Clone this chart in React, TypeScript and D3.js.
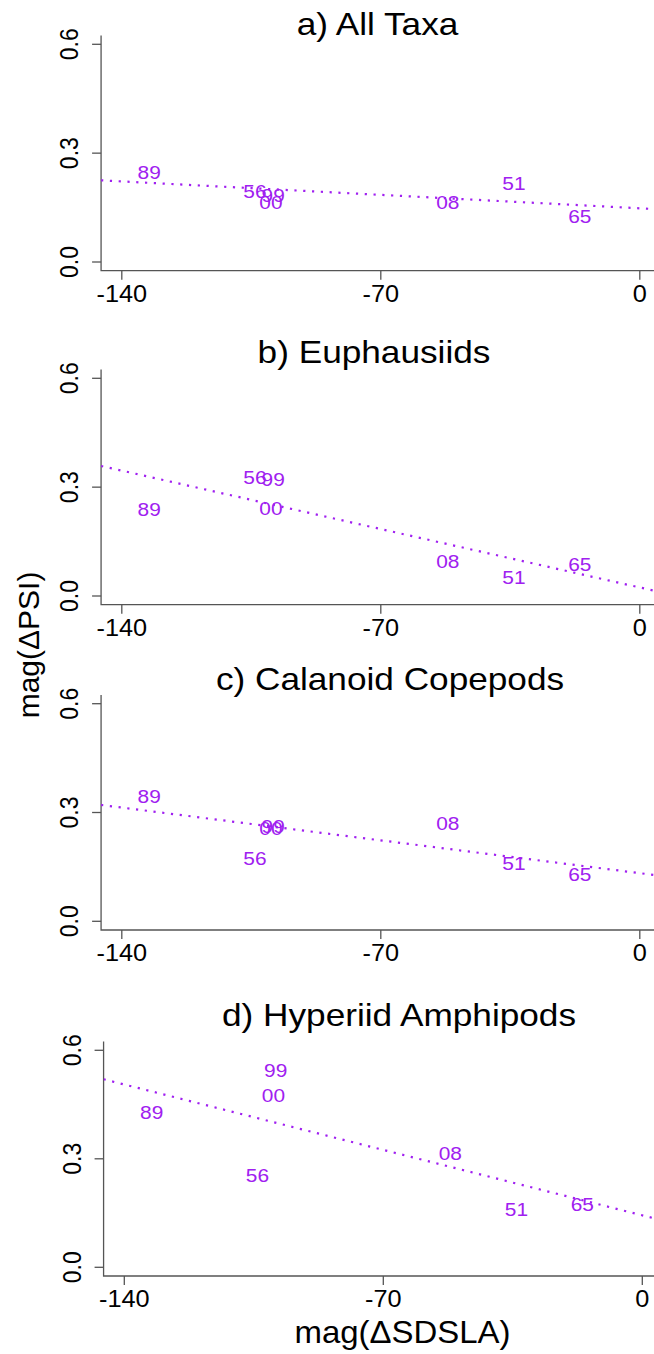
import * as d3 from "d3";

// magnitude of change in SDSLA (x) shared by every panel, one per year label
const yearLabels = ["89", "56", "99", "00", "08", "51", "65"];
const sdsla = [-132.6, -104.0, -99.1, -99.7, -51.9, -34.0, -16.2];

// magnitude of change in PSI per taxon group
const psiAllTaxa = [0.247, 0.194, 0.184, 0.164, 0.164, 0.217, 0.125];
const psiEuphausiids = [0.239, 0.327, 0.322, 0.241, 0.095, 0.051, 0.088];
const psiCalanoid = [0.344, 0.174, 0.261, 0.256, 0.27, 0.16, 0.13];
const psiHyperiid = [0.43, 0.254, 0.546, 0.477, 0.315, 0.161, 0.175];

// fitted line per panel: value at x = 0 and slope per unit of x
const fitIntercept = [0.148, 0.0235, 0.1327, 0.1437];
const fitSlope = [-0.000529, -0.0023, -0.001292, -0.002584];

const panelTitles = [
  "a) All Taxa",
  "b) Euphausiids",
  "c) Calanoid Copepods",
  "d) Hyperiid Amphipods",
];
const panelValues = [psiAllTaxa, psiEuphausiids, psiCalanoid, psiHyperiid];

const xTicks = [-140, -70, 0];
const yTicks = [0, 0.3, 0.6];

// page geometry (pixels) of each panel
const layout = [
  { y0: 262, y6: 44.3, dx: 0, titleX: 377.5, titleY: 35 },
  { y0: 596, y6: 378.3, dx: 0, titleX: 374, titleY: 363 },
  { y0: 921.3, y6: 703.7, dx: 0, titleX: 390, titleY: 690 },
  { y0: 1267.3, y6: 1050.3, dx: 2.5, titleX: 399, titleY: 1026 },
];

const W = 654;
const H = 1354;
const FONT = "'Liberation Sans', Arial, Helvetica, sans-serif";
const PURPLE = "#A020F0";
const AXIS = "#555555";
const SX = 1.1; // the figure is slightly stretched sideways

function Panel({ idx }: { idx: number }) {
  const L = layout[idx];
  const values = panelValues[idx];
  const x = d3.scaleLinear().domain([-140, 0]).range([121.8 + L.dx, 639.8 + L.dx]);
  const y = d3.scaleLinear().domain([0, 0.6]).range([L.y0, L.y6]);

  const left = x(-145.6);
  const right = x(5.6);
  const top = y(0.624);
  const bottom = y(-0.024);

  const fit = (v: number) => fitIntercept[idx] + fitSlope[idx] * v;
  const line = d3
    .line<number>()
    .x((d) => x(d))
    .y((d) => y(fit(d)));
  const clipId = `clip-${idx}`;

  return (
    <g>
      <defs>
        <clipPath id={clipId}>
          <rect x={left} y={top} width={right - left} height={bottom - top} />
        </clipPath>
      </defs>

      <text
        transform={`translate(${L.titleX},${L.titleY}) scale(${SX},1)`}
        textAnchor="middle"
        fontSize={32}
        fill="#000"
      >
        {panelTitles[idx]}
      </text>

      {/* L-shaped frame */}
      <path
        d={`M${left},${top}V${bottom}H${right}`}
        fill="none"
        stroke={AXIS}
        strokeWidth={1.3}
      />

      {yTicks.map((t) => (
        <g key={`y${t}`}>
          <line x1={left} x2={left - 9} y1={y(t)} y2={y(t)} stroke={AXIS} strokeWidth={1.3} />
          <text
            transform={`translate(${left - 23},${y(t)}) scale(${SX},1) rotate(-90)`}
            textAnchor="middle"
            fontSize={23}
            fill="#000"
          >
            {d3.format(".1f")(t)}
          </text>
        </g>
      ))}

      {xTicks.map((t) => (
        <g key={`x${t}`}>
          <line x1={x(t)} x2={x(t)} y1={bottom} y2={bottom + 9} stroke={AXIS} strokeWidth={1.3} />
          <text
            transform={`translate(${x(t)},${bottom + 31}) scale(${SX},1)`}
            textAnchor="middle"
            fontSize={23}
            fill="#000"
          >
            {t}
          </text>
        </g>
      ))}

      <path
        d={line([-145.6, 5.6]) ?? ""}
        clipPath={`url(#${clipId})`}
        fill="none"
        stroke={PURPLE}
        strokeWidth={2.2}
        strokeDasharray="2.2 6.6"
      />

      {yearLabels.map((lab, i) => (
        <text
          key={lab}
          transform={`translate(${x(sdsla[i])},${y(values[i])}) scale(${SX},1)`}
          dy="0.36em"
          textAnchor="middle"
          fontSize={19}
          fill={PURPLE}
        >
          {lab}
        </text>
      ))}
    </g>
  );
}

export default function App() {
  return (
    <svg
      width={W}
      height={H}
      viewBox={`0 0 ${W} ${H}`}
      style={{ position: "absolute", left: 0, top: 0, background: "#fff" }}
      fontFamily={FONT}
    >
      <rect width={W} height={H} fill="#fff" />
      {layout.map((_, i) => (
        <Panel key={i} idx={i} />
      ))}
      <text
        transform={`translate(39,645) rotate(-90)`}
        textAnchor="middle"
        fontSize={30}
        fill="#000"
      >
        mag(ΔPSI)
      </text>
      <text
        transform={`translate(402.5,1343) scale(1.03,1)`}
        textAnchor="middle"
        fontSize={32}
        fill="#000"
      >
        mag(ΔSDSLA)
      </text>
    </svg>
  );
}
